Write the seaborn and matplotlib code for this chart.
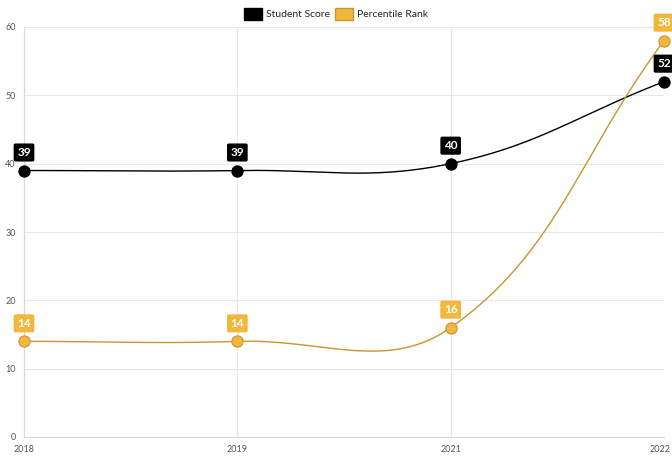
import numpy as np
import matplotlib
matplotlib.use("Agg")
import matplotlib.pyplot as plt
import matplotlib.transforms as mtransforms
import seaborn as sns
from matplotlib.patches import Patch

years = ["2018", "2019", "2021", "2022"]
student_score = [39, 39, 40, 52]
percentile_rank = [14, 14, 16, 58]

black = "#000000"
gold_fill = "#f2b83e"
gold_line = "#c9952c"

sns.set_style("white")
plt.rcParams['font.family'] = ['Lato', 'DejaVu Sans']

fig = plt.figure(figsize=(6.72, 4.63), dpi=100)
ax = fig.add_axes([24 / 672, 26 / 463, 640 / 672, 410 / 463])
ax.set_xlim(0, len(years) - 1)
ax.set_ylim(0, 60)

# pixel scale so the spline tension behaves like it does on screen
sx = 640 / (len(years) - 1)
sy = 410 / 60


def spline_path(vals, t=0.4):
    # cardinal-style bezier through the points (control points as in chart.js)
    xs = np.arange(len(vals), dtype=float)
    ys = np.array(vals, dtype=float)
    px, py = xs * sx, ys * sy
    ctrl = []
    for i in range(len(vals)):
        p0 = i - 1 if i > 0 else i
        p2 = i + 1 if i < len(vals) - 1 else i
        d01 = np.hypot(px[i] - px[p0], py[i] - py[p0])
        d12 = np.hypot(px[p2] - px[i], py[p2] - py[i])
        tot = d01 + d12
        s01 = d01 / tot if tot else 0
        s12 = d12 / tot if tot else 0
        dx, dy = px[p2] - px[p0], py[p2] - py[p0]
        prev_c = (px[i] - t * s01 * dx, py[i] - t * s01 * dy)
        next_c = (px[i] + t * s12 * dx, py[i] + t * s12 * dy)
        ctrl.append((prev_c, next_c))
    out_x, out_y = [], []
    u = np.linspace(0, 1, 60)
    for i in range(len(vals) - 1):
        P0 = np.array([px[i], py[i]])
        P1 = np.array(ctrl[i][1])
        P2 = np.array(ctrl[i + 1][0])
        P3 = np.array([px[i + 1], py[i + 1]])
        b = ((1 - u) ** 3)[:, None] * P0 + (3 * (1 - u) ** 2 * u)[:, None] * P1 \
            + (3 * (1 - u) * u ** 2)[:, None] * P2 + (u ** 3)[:, None] * P3
        out_x.extend(b[:, 0] / sx)
        out_y.extend(b[:, 1] / sy)
    return out_x, out_y


for vals, lc, fc, ec in [(student_score, black, black, black),
                          (percentile_rank, gold_line, gold_fill, gold_line)]:
    cx, cy = spline_path(vals)
    ax.plot(cx, cy, color=lc, lw=1.0, clip_on=False, zorder=3)
    sns.scatterplot(x=np.arange(len(vals)), y=vals, ax=ax, s=65, color=fc,
                    edgecolor=ec, linewidth=0.8, clip_on=False, zorder=4)
    for i, v in enumerate(vals):
        ax.annotate(str(v), (i, v), xytext=(0, 18), textcoords="offset pixels",
                    ha="center", va="center", color="white", fontsize=8.5,
                    fontweight="bold", zorder=6, annotation_clip=False,
                    bbox=dict(boxstyle="round,pad=0.3,rounding_size=0.15",
                              fc=fc, ec="none"))

ax.set_xticks(range(len(years)))
ax.set_xticklabels(years)
ax.set_yticks(range(0, 61, 10))
ax.grid(True, color="#e8e8e8", lw=0.8)
ax.set_axisbelow(True)
for side in ["top", "right"]:
    ax.spines[side].set_visible(False)
for side in ["left", "bottom"]:
    ax.spines[side].set_color("#d9d9d9")
    ax.spines[side].set_linewidth(0.8)
ax.tick_params(axis="both", labelsize=6.5, colors="#555555", length=4,
               width=0.8, pad=2)
ax.tick_params(axis="x", length=0, pad=6)
ax.tick_params(axis="y", color="#d9d9d9")
ax.set_xlabel("")
ax.set_ylabel("")

# keep the last year label inside the canvas
last = ax.get_xticklabels()[-1]
last.set_transform(last.get_transform() +
                   mtransforms.ScaledTranslation(-4 / 100, 0, fig.dpi_scale_trans))

handles = [Patch(facecolor=black, edgecolor=black, label="Student Score"),
           Patch(facecolor=gold_fill, edgecolor=gold_line, label="Percentile Rank")]
fig.legend(handles=handles, loc="center", bbox_to_anchor=(0.5, 1 - 14 / 463),
           ncol=2, frameon=False, fontsize=7.5, handlelength=1.7,
           handleheight=1.3, columnspacing=0.5, handletextpad=0.4)

fig.savefig("out.png", dpi=100)
